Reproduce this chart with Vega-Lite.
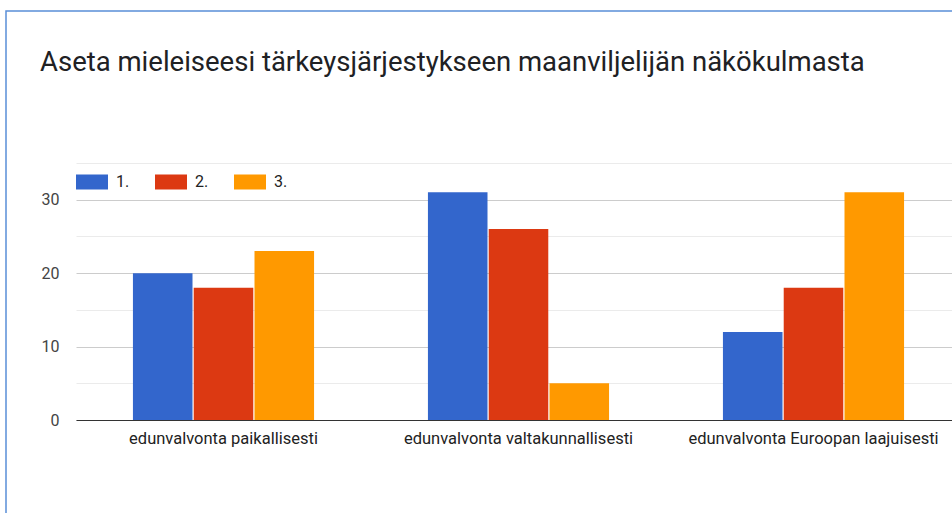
{
  "$schema": "https://vega.github.io/schema/vega-lite/v6.json",
  "autosize": {"type": "none"},
  "padding": {"left": 6, "top": 11, "right": -2, "bottom": -2},
  "width": 948,
  "height": 504,
  "background": "white",
  "title": {
    "text": "Aseta mieleiseesi tärkeysjärjestykseen maanviljelijän näkökulmasta",
    "anchor": "start",
    "frame": "group",
    "offset": -87,
    "dx": 34,
    "baseline": "alphabetic",
    "font": "Roboto",
    "fontSize": 27.5,
    "fontWeight": "normal",
    "color": "#202124"
  },
  "data": {
    "values": [
      {"kohde": "edunvalvonta paikallisesti", "sija": "1.", "lkm": 20},
      {"kohde": "edunvalvonta paikallisesti", "sija": "2.", "lkm": 18},
      {"kohde": "edunvalvonta paikallisesti", "sija": "3.", "lkm": 23},
      {"kohde": "edunvalvonta valtakunnallisesti", "sija": "1.", "lkm": 31},
      {"kohde": "edunvalvonta valtakunnallisesti", "sija": "2.", "lkm": 26},
      {"kohde": "edunvalvonta valtakunnallisesti", "sija": "3.", "lkm": 5},
      {"kohde": "edunvalvonta Euroopan laajuisesti", "sija": "1.", "lkm": 12},
      {"kohde": "edunvalvonta Euroopan laajuisesti", "sija": "2.", "lkm": 18},
      {"kohde": "edunvalvonta Euroopan laajuisesti", "sija": "3.", "lkm": 31}
    ]
  },
  "mark": {"type": "bar"},
  "encoding": {
    "x": {
      "field": "kohde",
      "type": "nominal",
      "sort": null,
      "scale": {"range": [70, 955], "paddingInner": 0.386, "paddingOuter": 0.193},
      "axis": {
        "title": null,
        "orient": "bottom",
        "offset": -95,
        "labelAngle": 0,
        "labelPadding": 10,
        "labelFont": "Roboto",
        "labelFontSize": 16.5,
        "labelColor": "#222222",
        "labelLimit": 400,
        "ticks": false,
        "grid": false,
        "domain": true,
        "domainColor": "#333333",
        "domainWidth": 1
      }
    },
    "xOffset": {
      "field": "sija",
      "type": "nominal",
      "scale": {"paddingInner": 0.02, "paddingOuter": 0}
    },
    "y": {
      "field": "lkm",
      "type": "quantitative",
      "scale": {"domain": [0, 35], "range": [409, 152], "nice": false, "zero": true},
      "axis": {
        "title": null,
        "orient": "left",
        "offset": -69,
        "values": [0, 5, 10, 15, 20, 25, 30, 35],
        "labelExpr": "datum.value % 10 === 0 ? datum.label : ''",
        "labelPadding": 16,
        "labelFont": "Roboto",
        "labelFontSize": 16,
        "labelColor": "#444444",
        "ticks": false,
        "domain": false,
        "grid": true,
        "gridColor": {"condition": {"test": "datum.value % 10 === 0", "value": "#cccccc"}, "value": "#ebebeb"},
        "gridWidth": 1
      }
    },
    "color": {
      "field": "sija",
      "type": "nominal",
      "scale": {"domain": ["1.", "2.", "3."], "range": ["#3366cc", "#dc3912", "#ff9900"]},
      "legend": {
        "title": null,
        "orient": "none",
        "direction": "horizontal",
        "legendX": 70,
        "legendY": 155,
        "symbolType": "M-1,-0.469H1V0.469H-1Z",
        "symbolSize": 1024,
        "symbolStrokeWidth": 0,
        "symbolOpacity": 1,
        "labelFont": "Roboto",
        "labelFontSize": 16,
        "labelColor": "#222222",
        "labelOffset": 8,
        "columnPadding": 25,
        "padding": 0
      }
    }
  },
  "config": {
    "view": {"stroke": "#5a8fd8", "strokeWidth": 1.5, "fill": "white"}
  }
}
